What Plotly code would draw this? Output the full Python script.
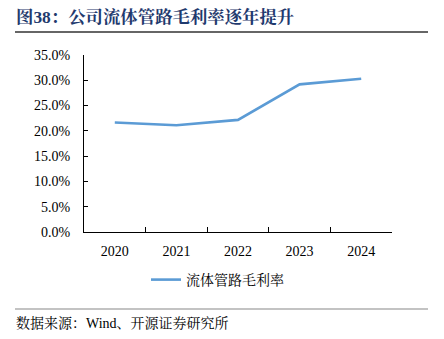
import plotly.graph_objects as go

years = ["2020", "2021", "2022", "2023", "2024"]
margin_rate = [21.65, 21.12, 22.17, 29.19, 30.3]
y_ticks = [0, 5, 10, 15, 20, 25, 30, 35]
y_tick_text = [f"{v:.1f}%" for v in y_ticks]
series_name = "流体管路毛利率"
title_text = "<b>图38：公司流体管路毛利率逐年提升</b>"
source_text = "数据来源：Wind、开源证券研究所"

FONT = "Liberation Serif, Times New Roman, Noto Serif CJK SC, Noto Sans CJK SC, serif"

L, R, T, B = 84, 52, 55, 107
W, H = 444, 339
pw, ph = W - L - R, H - T - B

def px_x(px):
    return (px - L) / pw

def px_y(py):
    return (H - B - py) / ph

fig = go.Figure()
fig.add_trace(go.Scatter(
    x=years, y=margin_rate, mode="lines", name=series_name,
    line=dict(color="#5B9BD5", width=2.6), showlegend=True,
))

fig.update_layout(
    width=W, height=H,
    margin=dict(l=L, r=R, t=T, b=B),
    paper_bgcolor="white", plot_bgcolor="white",
    font=dict(family=FONT, size=14, color="black"),
    showlegend=True,
    legend=dict(orientation="h", x=px_x(146), xanchor="left", y=px_y(280), yanchor="middle",
                font=dict(size=14, family=FONT), itemwidth=30, bgcolor="rgba(0,0,0,0)"),
    xaxis=dict(type="category", range=[-0.5, 4.5], showline=True, linecolor="black", linewidth=1,
               ticks="inside", tickson="boundaries", ticklen=5, tickcolor="black",
               showgrid=False, tickfont=dict(size=14, family=FONT), zeroline=False,
               ticklabelstandoff=6),
    yaxis=dict(range=[0, 35], tickvals=y_ticks, ticktext=y_tick_text,
               showline=True, linecolor="black", linewidth=1,
               ticks="inside", ticklen=4, tickcolor="black",
               showgrid=False, zeroline=False, tickfont=dict(size=14, family=FONT),
               ticklabelstandoff=10),
)

fig.add_annotation(text=title_text, xref="paper", yref="paper",
                   x=px_x(14), y=px_y(17), xanchor="left", yanchor="middle",
                   showarrow=False, font=dict(size=17.4, color="#1F3A6E", family=FONT))
fig.add_annotation(text=source_text, xref="paper", yref="paper",
                   x=px_x(14), y=px_y(323), xanchor="left", yanchor="middle",
                   showarrow=False, font=dict(size=14, color="black", family=FONT))

fig.add_shape(type="line", xref="paper", yref="paper",
              x0=px_x(15), x1=px_x(428), y0=px_y(32), y1=px_y(32),
              line=dict(color="#333333", width=1.5))
fig.add_shape(type="line", xref="paper", yref="paper",
              x0=px_x(15), x1=px_x(428), y0=px_y(309), y1=px_y(309),
              line=dict(color="#888888", width=1.2))

fig.write_html("out.html")
